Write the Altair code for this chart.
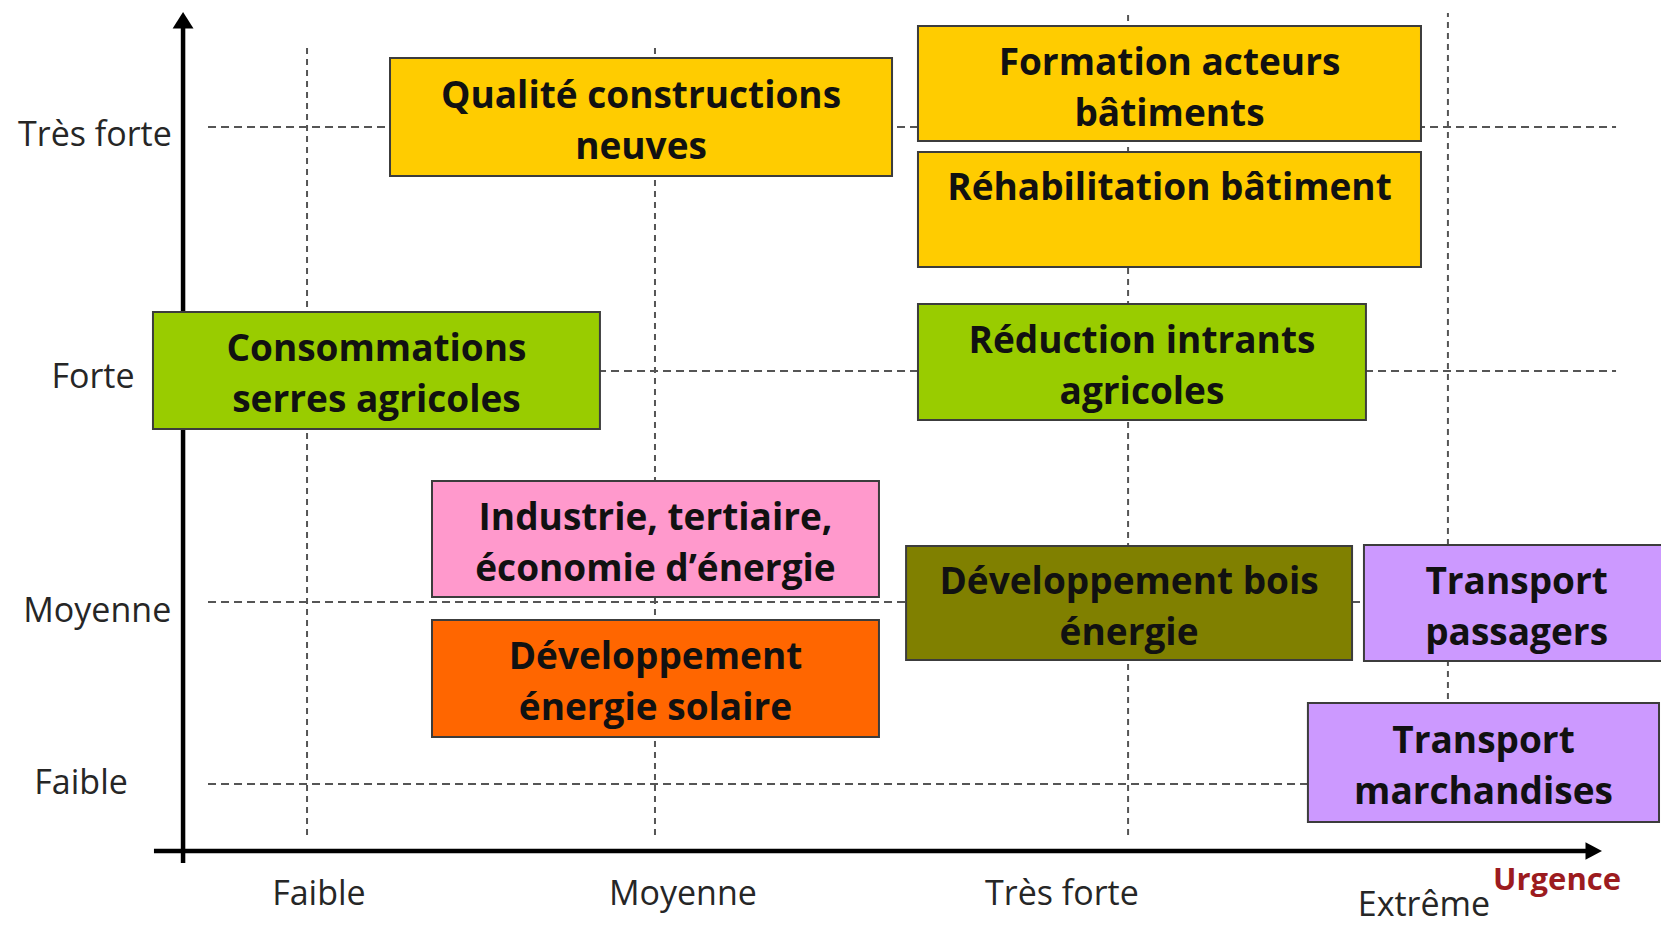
import altair as alt
import pandas as pd

# ---------------- data (0-100 chart units) ----------------
box_labels = [
    "Qualité constructions\nneuves",
    "Formation acteurs\nbâtiments",
    "Réhabilitation bâtiment\n ",
    "Consommations\nserres agricoles",
    "Réduction intrants\nagricoles",
    "Industrie, tertiaire,\néconomie d’énergie",
    "Développement\nénergie solaire",
    "Développement bois\nénergie",
    "Transport\npassagers",
    "Transport\nmarchandises",
]
box_theme = ["Bâtiment", "Bâtiment", "Bâtiment", "Agriculture", "Agriculture",
             "Industrie", "Solaire", "Bois", "Transport", "Transport"]
box_x_start = [23.11, 55.05, 55.05, 8.77, 55.05, 25.65, 25.65, 54.33, 82.03, 78.64]
box_x_end = [53.48, 85.48, 85.48, 35.81, 82.15, 52.69, 52.69, 81.31, 100.5, 99.88]
box_y_top = [94.57, 98.04, 84.35, 66.96, 67.83, 48.59, 33.48, 41.52, 41.63, 24.46]
box_y_bottom = [81.74, 85.54, 71.85, 54.24, 55.22, 35.98, 20.76, 29.13, 29.02, 11.52]

theme_names = ["Bâtiment", "Agriculture", "Industrie", "Solaire", "Bois", "Transport"]
theme_colors = ["#FFCC00", "#99CC00", "#FF99CC", "#FF6600", "#808000", "#CC99FF"]

# Urgence (x) levels
urg_levels = ["Faible", "Moyenne", "Très forte", "Extrême"]
urg_grid_x = [18.09, 39.14, 67.76, 87.11]
urg_grid_top = [95.65, 95.65, 99.46, 99.46]
urg_grid_bottom = [10.11, 10.11, 10.11, 11.74]
urg_label_x = [18.81, 40.83, 63.76, 85.66]
urg_label_y = [3.59, 3.59, 3.59, 2.4]

# Vulnerability (y) levels
vul_levels = ["Très forte", "Forte", "Moyenne", "Faible"]
vul_grid_y = [87.07, 60.54, 35.43, 15.65]
vul_grid_start = [12.10, 12.10, 12.10, 12.10]
vul_grid_end = [97.28, 97.28, 97.28, 97.28]
vul_label_x = [5.26, 5.14, 5.40, 4.42]
vul_label_y = [86.10, 59.8, 34.40, 15.6]

# axes (arrows)
axis_name = ["y", "x"]
axis_x_start = [10.59, 8.83]
axis_x_end = [10.59, 95.7]
axis_y_start = [7.07, 8.37]
axis_y_end = [98.67, 8.37]
arrow_x = [10.59, 95.93]
arrow_y = [98.67, 8.37]

urgence_title = ["Urgence"]
urgence_title_x = [93.71]
urgence_title_y = [5.11]

# ---------------- tables ----------------
boxes = pd.DataFrame({
    "label": box_labels, "theme": box_theme,
    "x0": box_x_start, "x1": box_x_end, "y0": box_y_bottom, "y1": box_y_top,
})
boxes["xc"] = (boxes["x0"] + boxes["x1"].clip(upper=100.5)) / 2
boxes["yc"] = (boxes["y0"] + boxes["y1"]) / 2

urg = pd.DataFrame({"level": urg_levels, "gx": urg_grid_x, "gt": urg_grid_top,
                    "gb": urg_grid_bottom, "lx": urg_label_x, "ly": urg_label_y})
vul = pd.DataFrame({"level": vul_levels, "gy": vul_grid_y, "gs": vul_grid_start,
                    "ge": vul_grid_end, "lx": vul_label_x, "ly": vul_label_y})
axes_df = pd.DataFrame({"name": axis_name, "x0": axis_x_start, "x1": axis_x_end,
                        "y0": axis_y_start, "y1": axis_y_end,
                        "ax": arrow_x, "ay": arrow_y})
title_df = pd.DataFrame({"t": urgence_title, "x": urgence_title_x, "y": urgence_title_y})

xs = alt.Scale(domain=[0, 100], nice=False, zero=False)
ys = alt.Scale(domain=[0, 100], nice=False, zero=False)

def X(f):
    return alt.X(f, type="quantitative", scale=xs, axis=None)

def Y(f):
    return alt.Y(f, type="quantitative", scale=ys, axis=None)

FONT = "Open Sans"

vgrid = alt.Chart(urg).mark_rule(color="#555555", strokeWidth=2, strokeDash=[6, 5]).encode(
    x=X("gx"), y=Y("gb"), y2="gt")
hgrid = alt.Chart(vul).mark_rule(color="#555555", strokeWidth=2, strokeDash=[8, 5]).encode(
    y=Y("gy"), x=X("gs"), x2="ge")

axis_lines = alt.Chart(axes_df).mark_rule(color="black", strokeWidth=4.5).encode(
    x=X("x0"), x2="x1", y=Y("y0"), y2="y1")

arrow_up = alt.Chart(axes_df[axes_df.name == "y"]).mark_point(
    shape="M0,-0.75L0.95,0.75L-0.95,0.75Z", filled=True, size=484, color="black", opacity=1
).encode(x=X("ax"), y=Y("ay"))
arrow_right = alt.Chart(axes_df[axes_df.name == "x"]).mark_point(
    shape="M0.75,0L-0.75,0.8L-0.75,-0.8Z", filled=True, size=484, color="black", opacity=1
).encode(x=X("ax"), y=Y("ay"))

rects = alt.Chart(boxes).mark_rect(stroke="#3c3c3c", strokeWidth=2).encode(
    x=X("x0"), x2="x1", y=Y("y0"), y2="y1",
    color=alt.Color("theme:N", scale=alt.Scale(domain=theme_names, range=theme_colors),
                    legend=None),
)
box_text = alt.Chart(boxes).mark_text(
    font=FONT, fontWeight="bold", fontSize=37, lineHeight=51, lineBreak="\n",
    align="center", baseline="middle", color="#111111", dy=-20
).encode(x=X("xc"), y=Y("yc"), text="label:N")

urg_text = alt.Chart(urg).mark_text(
    font=FONT, fontSize=34, align="center", baseline="middle", color="#262626"
).encode(x=X("lx"), y=Y("ly"), text="level:N")
vul_text = alt.Chart(vul).mark_text(
    font=FONT, fontSize=34, align="center", baseline="middle", color="#262626"
).encode(x=X("lx"), y=Y("ly"), text="level:N")
title_text = alt.Chart(title_df).mark_text(
    font=FONT, fontSize=31, fontWeight="bold", align="center", baseline="middle",
    color="#9C1B1F"
).encode(x=X("x"), y=Y("y"), text="t:N")

chart = alt.layer(
    vgrid, hgrid, axis_lines, arrow_up, arrow_right, rects, box_text,
    urg_text, vul_text, title_text,
).properties(
    width=1653, height=920, padding=0,
    autosize=alt.AutoSizeParams(type="none"),
    background="white",
).configure_view(strokeWidth=0)

chart.save("out.html", embed_options={"renderer": "svg", "actions": False})
